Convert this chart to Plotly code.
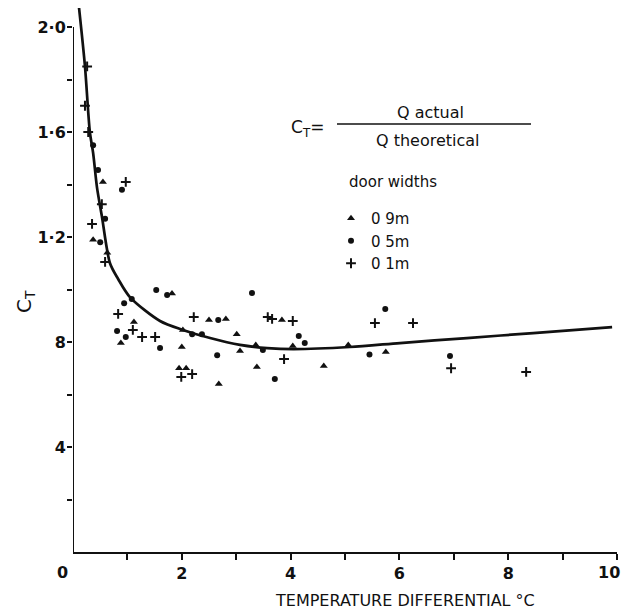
import plotly.graph_objects as go

# ---- data ----
curve_x = [0.11, 0.22, 0.31, 0.37, 0.44, 0.53, 0.68, 0.83, 1.05, 1.6, 2.02, 2.52, 3.07, 3.57, 4.05, 5.09, 6.01, 7.24, 8.46, 9.91]
curve_y = [2.075, 1.85, 1.60, 1.52, 1.39, 1.28, 1.10, 1.04, 0.97, 0.88, 0.846, 0.815, 0.789, 0.777, 0.773, 0.781, 0.796, 0.815, 0.834, 0.857]

tri_x = [0.55, 0.37, 0.63, 1.82, 1.12, 2.50, 2.81, 0.88, 2.02, 2.00, 1.95, 2.08, 2.68, 3.84, 3.01, 3.36, 3.07, 4.04, 3.38, 4.61, 5.06, 5.75]
tri_y = [1.41, 1.19, 1.14, 0.985, 0.876, 0.884, 0.888, 0.796, 0.846, 0.781, 0.70, 0.70, 0.64, 0.884, 0.830, 0.789, 0.766, 0.785, 0.705, 0.709, 0.789, 0.762]

dot_x = [0.37, 0.46, 0.90, 0.59, 0.50, 1.53, 1.73, 0.94, 1.08, 0.81, 0.97, 1.60, 2.19, 2.37, 2.65, 2.67, 3.29, 4.15, 4.26, 3.49, 3.71, 5.74, 5.45, 6.93]
dot_y = [1.55, 1.455, 1.38, 1.27, 1.18, 0.998, 0.979, 0.948, 0.964, 0.842, 0.819, 0.777, 0.830, 0.830, 0.750, 0.884, 0.987, 0.823, 0.796, 0.770, 0.659, 0.926, 0.752, 0.747]

plus_x = [0.26, 0.22, 0.28, 0.97, 0.53, 0.35, 0.59, 0.83, 1.10, 1.27, 1.51, 2.22, 1.99, 2.19, 3.58, 3.66, 4.04, 3.88, 5.55, 6.25, 6.95, 8.33]
plus_y = [1.85, 1.70, 1.60, 1.41, 1.325, 1.25, 1.105, 0.907, 0.846, 0.819, 0.819, 0.895, 0.667, 0.678, 0.895, 0.888, 0.880, 0.735, 0.872, 0.872, 0.70, 0.686]

series_names = ["0 9m", "0 5m", "0 1m"]
y_tickvals = [0.4, 0.8, 1.2, 1.6, 2.0]
y_ticktext = ["4", "8", "1·2", "1·6", "2·0"]
y_minor_vals = [0.2, 0.6, 1.0, 1.4, 1.8]
x_tickvals = [2, 4, 6, 8]
x_ticktext = ["2", "4", "6", "8"]
x_minor_vals = [1, 3, 5, 7, 9, 10]
x_end_labels = ["0", "10"]

# the page body has an 8px margin, so the figure is drawn 8px in from the corner
OFF = 8
W, H = 630 - OFF, 613 - OFF
X0_PX, X10_PX, Y0_PX = 73, 617, 552      # positions in the window
ML = X0_PX - OFF
MR = (W + OFF) - X10_PX
MB = (H + OFF) - Y0_PX
MT = 0
PW, PH = W - ML - MR, H - MT - MB
Y_TOP = PH / 262.5

def px(x):
    return (x - X0_PX) / PW

def py(y):
    return (Y0_PX - y) / PH

FONT = "DejaVu Sans"
BLACK = "#111111"

fig = go.Figure()
fig.add_trace(go.Scatter(x=curve_x, y=curve_y, mode="lines", line=dict(color=BLACK, width=2.7, shape="spline", smoothing=0.8),
                         showlegend=False, hoverinfo="skip", cliponaxis=True))
fig.add_trace(go.Scatter(x=tri_x, y=tri_y, mode="markers", name=series_names[0],
                         marker=dict(symbol="triangle-up", size=7, color=BLACK)))
fig.add_trace(go.Scatter(x=dot_x, y=dot_y, mode="markers", name=series_names[1],
                         marker=dict(symbol="circle", size=6, color=BLACK)))
fig.add_trace(go.Scatter(x=plus_x, y=plus_y, mode="markers", name=series_names[2],
                         marker=dict(symbol="cross-thin", size=7, line=dict(color=BLACK, width=2), color=BLACK)))

# y axis line only up to 2.0
fig.add_shape(type="line", xref="x", yref="y", x0=0, x1=0, y0=0, y1=2.0, line=dict(color=BLACK, width=2))

# formula
fig.add_annotation(xref="paper", yref="paper", x=px(289), y=py(128), xanchor="left", yanchor="middle",
                   text="C<sub>T</sub>=", showarrow=False, font=dict(family=FONT, size=17, color=BLACK))
fig.add_annotation(xref="paper", yref="paper", x=px(430), y=py(112), xanchor="center", yanchor="middle",
                   text="Q actual", showarrow=False, font=dict(family=FONT, size=16, color=BLACK))
fig.add_annotation(xref="paper", yref="paper", x=px(428), y=py(140), xanchor="center", yanchor="middle",
                   text="Q theoretical", showarrow=False, font=dict(family=FONT, size=16, color=BLACK))
fig.add_shape(type="line", xref="paper", yref="paper", x0=px(337), x1=px(531), y0=py(124), y1=py(124),
              line=dict(color=BLACK, width=1.5))
fig.add_annotation(xref="paper", yref="paper", x=px(347), y=py(182), xanchor="left", yanchor="middle",
                   text="door widths", showarrow=False, font=dict(family=FONT, size=15, color=BLACK))

# end labels of the x axis (offset like the reference)
fig.add_annotation(xref="paper", yref="paper", x=px(62), y=py(572), xanchor="center", yanchor="middle",
                   text=x_end_labels[0], showarrow=False, font=dict(family=FONT, size=16, color=BLACK, weight="bold"))
fig.add_annotation(xref="paper", yref="paper", x=px(609), y=py(572), xanchor="center", yanchor="middle",
                   text=x_end_labels[1], showarrow=False, font=dict(family=FONT, size=16, color=BLACK, weight="bold"))

# axis titles
fig.add_annotation(xref="paper", yref="paper", x=px(25), y=py(302), xanchor="center", yanchor="middle",
                   text="C<sub>T</sub>", textangle=-90, showarrow=False, font=dict(family=FONT, size=20, color=BLACK))
fig.add_annotation(xref="paper", yref="paper", x=px(405), y=py(600), xanchor="center", yanchor="middle",
                   text="TEMPERATURE DIFFERENTIAL °C", showarrow=False, font=dict(family=FONT, size=16, color=BLACK))

fig.update_layout(
    width=W, height=H, autosize=False,
    margin=dict(l=ML, r=MR, t=MT, b=MB, pad=0),
    paper_bgcolor="white", plot_bgcolor="white",
    font=dict(family=FONT, color=BLACK),
    legend=dict(x=px(331), y=py(202), xanchor="left", yanchor="top",
                font=dict(family=FONT, size=15, color=BLACK), bgcolor="rgba(0,0,0,0)",
                itemwidth=30, tracegroupgap=0),
    xaxis=dict(range=[0, 10], showgrid=False, zeroline=False, showline=True, linecolor=BLACK, linewidth=2,
               ticks="outside", ticklen=6, tickwidth=1.5, tickcolor=BLACK,
               tickmode="array", tickvals=x_tickvals, ticktext=x_ticktext,
               minor=dict(tickmode="array", tickvals=x_minor_vals, ticks="outside", ticklen=6, tickwidth=1.5,
                          tickcolor=BLACK, showgrid=False),
               tickfont=dict(family=FONT, size=16, color=BLACK, weight="bold")),
    yaxis=dict(range=[0, Y_TOP], showgrid=False, zeroline=False, showline=False,
               ticks="outside", ticklen=5, tickwidth=1.5, tickcolor=BLACK,
               tickmode="array", tickvals=y_tickvals, ticktext=y_ticktext, ticklabelstandoff=-2,
               minor=dict(tickmode="array", tickvals=y_minor_vals, ticks="outside", ticklen=5, tickwidth=1.5,
                          tickcolor=BLACK, showgrid=False),
               tickfont=dict(family=FONT, size=16, color=BLACK, weight="bold")),
)

fig.write_html("out.html")
